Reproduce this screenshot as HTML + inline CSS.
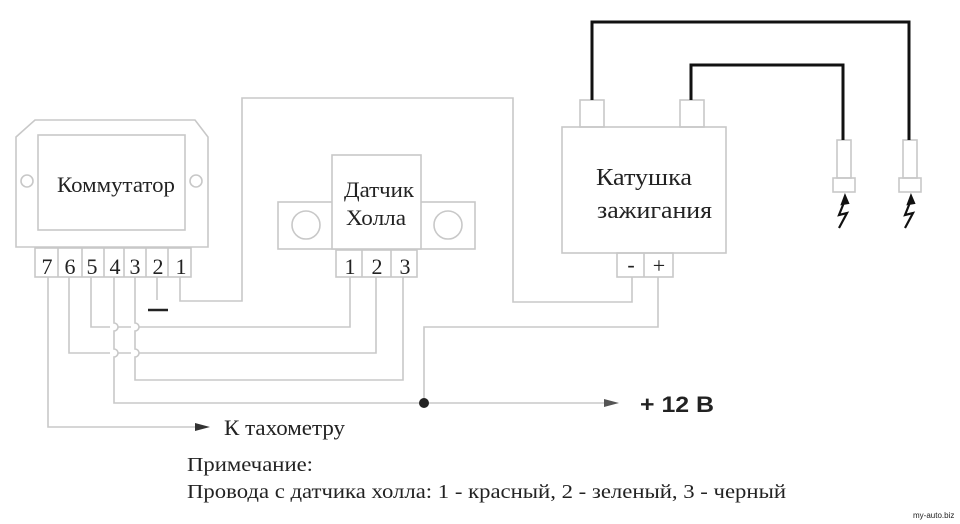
<!DOCTYPE html>
<html><head><meta charset="utf-8"><style>
html,body{margin:0;padding:0;background:#fff;width:960px;height:524px;overflow:hidden}
svg text{font-family:"Liberation Serif",serif;fill:#222}
</style></head><body>
<svg width="960" height="524" viewBox="0 0 960 524" xmlns="http://www.w3.org/2000/svg">
<g fill="none" stroke="#c8c8c8" stroke-width="1.6">
<path d="M16,137 L35,120 L195,120 L208,137 L208,247 L16,247 Z"/>
<rect x="38" y="135" width="147" height="95"/>
<circle cx="27" cy="181" r="6"/><circle cx="196" cy="181" r="6"/>
<rect x="35" y="248" width="156" height="29"/>
<path d="M58,248V277M82,248V277M104,248V277M124,248V277M146,248V277M168,248V277"/>
<rect x="278" y="202" width="197" height="47"/>
<rect x="332" y="155" width="89" height="94" fill="#fff"/>
<circle cx="306" cy="225" r="14"/><circle cx="448" cy="225" r="14"/>
<rect x="336" y="250" width="81" height="27"/>
<path d="M362,250V277M391,250V277"/>
<rect x="562" y="127" width="164" height="126"/>
<rect x="580" y="100" width="24" height="27"/><rect x="680" y="100" width="24" height="27"/>
<rect x="617" y="253" width="56" height="24"/><path d="M644,253V277"/>
<rect x="837" y="140" width="14" height="38"/><rect x="833" y="178" width="22" height="14"/>
<rect x="903" y="140" width="14" height="38"/><rect x="899" y="178" width="22" height="14"/>
<path d="M48,277V427H195"/>
<path d="M69,277V353H110 M118,353H131 M139,353H376V277"/>
<path d="M91,277V327H110 M118,327H131 M139,327H350V277"/>
<path d="M114,277V323 a4,4 0 0 1 0,8 V349 a4,4 0 0 1 0,8 V403H424"/>
<path d="M135,277V323 a4,4 0 0 1 0,8 V349 a4,4 0 0 1 0,8 V380H403V277"/>
<path d="M157,277V300"/>
<path d="M180,277V301H242V98H513V302H632V277"/>
<path d="M424,403V327H658V277"/>
<path d="M424,403H605"/>
</g>
<line x1="148" y1="310" x2="168" y2="310" stroke="#222" stroke-width="2.5"/>
<circle cx="424" cy="403" r="5" fill="#222"/>
<path d="M195,423 L210,427 L195,431 Z" fill="#333"/>
<path d="M604,399 L619,403 L604,407 Z" fill="#555"/>
<g fill="none" stroke="#111" stroke-width="3">
<path d="M592,100V22H909V140"/>
<path d="M691,100V65H843V140"/>
</g>
<g fill="none" stroke="#111" stroke-width="2.2">
<path d="M845,200 L839,215 L847,213 L839,228"/><path d="M845,196 L842,204 L848,203Z" fill="#111"/>
<path d="M911,200 L905,215 L913,213 L905,228"/><path d="M911,196 L908,204 L914,203Z" fill="#111"/>
</g>
<g lengthAdjust="spacingAndGlyphs">
<text x="57" y="192" font-size="22" textLength="118" lengthAdjust="spacingAndGlyphs">Коммутатор</text>
<text x="344" y="197" font-size="22" textLength="70" lengthAdjust="spacingAndGlyphs">Датчик</text>
<text x="346" y="225" font-size="22" textLength="60" lengthAdjust="spacingAndGlyphs">Холла</text>
<text x="596" y="185" font-size="24" textLength="96" lengthAdjust="spacingAndGlyphs">Катушка</text>
<text x="597" y="218" font-size="24" textLength="115" lengthAdjust="spacingAndGlyphs">зажигания</text>
<text x="224" y="435" font-size="22" textLength="121" lengthAdjust="spacingAndGlyphs">К тахометру</text>
<text x="187" y="471" font-size="20" textLength="126" lengthAdjust="spacingAndGlyphs">Примечание:</text>
<text x="187" y="498" font-size="20" textLength="599" lengthAdjust="spacingAndGlyphs">Провода с датчика холла: 1 - красный, 2 - зеленый, 3 - черный</text>
</g>
<g font-size="22" text-anchor="middle">
<text x="47" y="274">7</text><text x="70" y="274">6</text><text x="92" y="274">5</text><text x="115" y="274">4</text><text x="135" y="274">3</text><text x="158" y="274">2</text><text x="181" y="274">1</text>
<text x="350" y="274">1</text><text x="377" y="274">2</text><text x="405" y="274">3</text>
<text x="631" y="272">-</text><text x="659" y="273">+</text>
</g>
<text x="640" y="412" font-size="22" font-weight="bold" style="font-family:'Liberation Sans',sans-serif" fill="#111" textLength="74" lengthAdjust="spacingAndGlyphs">+ 12 В</text>
<text x="913" y="518" font-size="8" style="font-family:'Liberation Sans',sans-serif" fill="#777">my-auto.biz</text>
</svg>
</body></html>
